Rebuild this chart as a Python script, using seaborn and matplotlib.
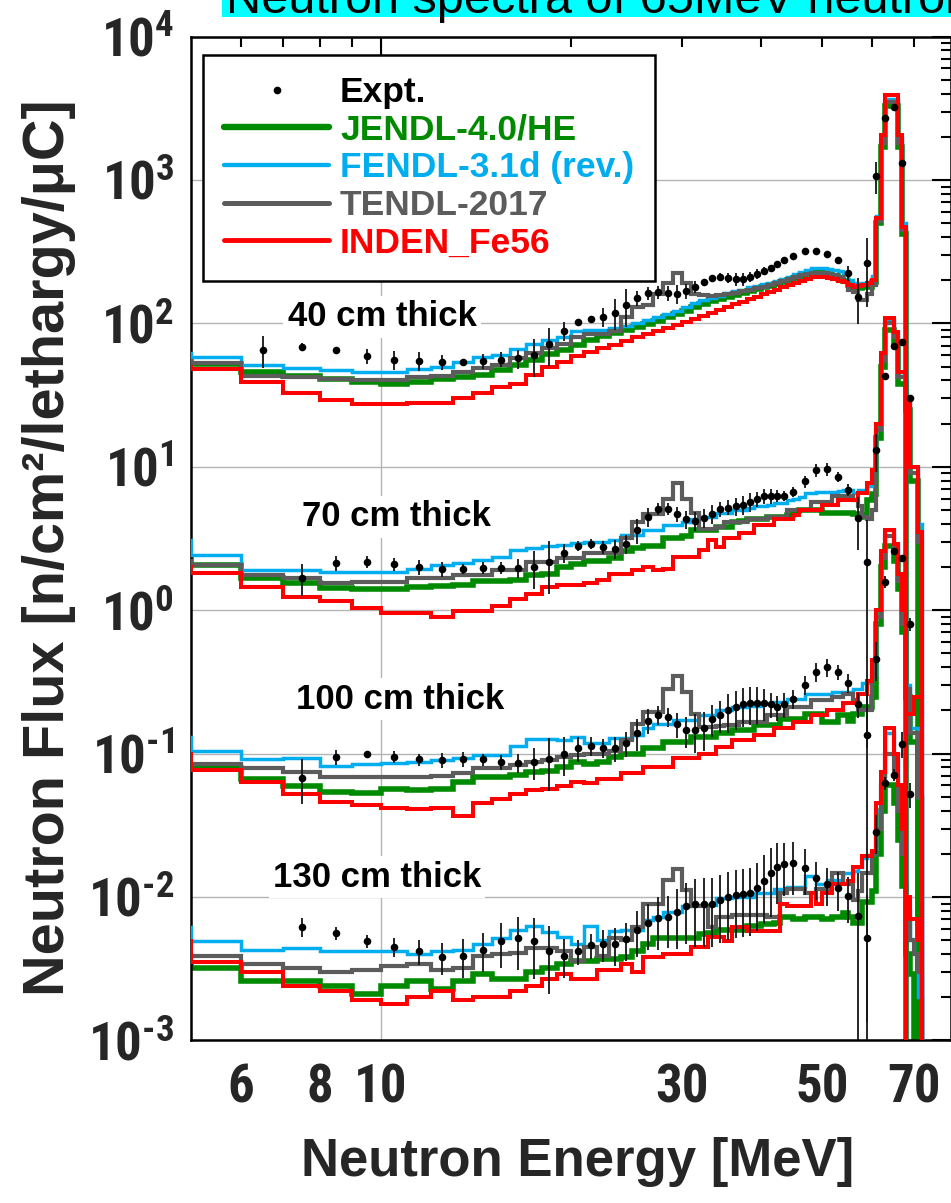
import os
import numpy as np
import pandas as pd
import matplotlib
matplotlib.use("Agg")
import matplotlib.pyplot as plt
from matplotlib.lines import Line2D
from matplotlib.patches import Rectangle
from matplotlib.ticker import NullFormatter
from matplotlib import font_manager
from matplotlib.font_manager import FontProperties
import seaborn as sns

# ------------------------------------------------------------------ data
EDGES = list(range(4, 77))  # histogram bin edges [MeV], 72 bins (4-5 ... 75-76)

# ---- 40 cm
JENDL_40 = [56, 52, 46, 43, 41, 39, 38, 39, 41, 42,
            44, 47, 51, 56, 61, 65, 71, 76, 82, 86,
            90, 94, 99, 104, 110, 116, 123, 130, 137, 143,
            148, 153, 158, 163, 168, 173, 178, 183, 188, 194,
            200, 207, 213, 220, 226, 228, 226, 220, 213, 205,
            198, 185, 180, 176, 178, 180, 195, 500, 1700, 3300,
            3300, 3300, 1700, 420, 0, 0, 0, 0, 0, 0,
            0, 0]
FENDL_40 = [62, 58, 51, 49, 47, 46, 46, 48, 50, 54,
            58, 60, 66, 72, 76, 80, 88, 90, 90, 93,
            96, 100, 105, 110, 116, 122, 130, 138, 145, 150,
            156, 162, 167, 172, 178, 183, 188, 192, 198, 205,
            212, 220, 228, 236, 243, 245, 243, 240, 236, 232,
            225, 200, 190, 188, 190, 195, 215, 560, 2000, 3700,
            3700, 3700, 2000, 500, 0, 0, 0, 0, 0, 0,
            0, 0]
TENDL_40 = [55, 53, 43, 42, 41, 40, 40, 42, 43, 46,
            49, 51, 57, 62, 67, 72, 80, 84, 85, 88,
            110, 130, 135, 160, 190, 225, 190, 160, 158, 156,
            158, 160, 163, 168, 172, 176, 180, 186, 192, 198,
            205, 212, 218, 222, 225, 226, 225, 222, 218, 210,
            195, 172, 165, 145, 145, 160, 185, 520, 1800, 3500,
            3500, 3500, 1800, 450, 0, 0, 0, 0, 0, 0,
            0, 0]
INDEN_40 = [50, 48, 39, 32.5, 29, 27.5, 27.5, 27.7, 27.7, 30,
            32.5, 36, 38, 44, 50, 54, 59, 63, 67, 71,
            75, 80, 84, 88, 93, 98, 103, 108, 113, 118,
            124, 130, 136, 142, 148, 154, 160, 166, 172, 178,
            185, 192, 198, 204, 210, 212, 210, 207, 203, 198,
            195, 185, 180, 182, 185, 190, 200, 540, 2060, 3900,
            3900, 3900, 2060, 470, 0, 0, 0, 0, 0, 0,
            0, 0]

# ---- 70 cm
JENDL_70 = [2.3, 2.07, 1.68, 1.55, 1.43, 1.4, 1.4, 1.45, 1.48, 1.5,
            1.6, 1.6, 1.62, 1.76, 1.8, 2.0, 2.1, 2.2, 2.2, 2.3,
            2.6, 2.7, 2.8, 2.8, 3.2, 3.2, 3.3, 3.6, 3.6, 3.6,
            3.8, 3.8, 4.1, 4.2, 4.3, 4.3, 4.3, 4.5, 4.5, 4.5,
            4.6, 4.9, 5.0, 5.0, 5.0, 5.0, 4.8, 4.8, 4.8, 4.8,
            4.8, 4.8, 4.7, 4.5, 4.6, 5.9, 6.5, 16, 50, 90,
            90, 70, 38, 38, 25, 8, 8, 0, 0, 0,
            0, 0]
FENDL_70 = [3.1, 2.43, 1.9, 1.9, 1.86, 1.86, 1.86, 1.95, 2.05, 2.14,
            2.25, 2.35, 2.63, 2.7, 2.8, 2.85, 2.95, 3.0, 3.0, 3.1,
            3.35, 3.35, 3.6, 3.6, 3.9, 3.9, 4.1, 4.3, 4.5, 4.5,
            4.8, 4.8, 5.0, 5.0, 5.2, 5.3, 5.3, 5.4, 5.6, 5.6,
            5.9, 6.0, 6.2, 6.6, 6.6, 6.7, 6.7, 6.7, 6.7, 6.8,
            6.9, 6.9, 6.6, 6.9, 6.9, 7.3, 9.0, 20, 62, 105,
            105, 87, 46, 46, 30, 10, 10, 4, 0, 0,
            0, 0]
TENDL_70 = [2.2, 2.07, 1.76, 1.68, 1.55, 1.58, 1.58, 1.68, 1.68, 1.76,
            1.76, 1.9, 1.9, 2.16, 2.16, 2.3, 2.3, 2.5, 2.5, 2.5,
            3.2, 4.1, 4.7, 4.7, 6.0, 7.7, 6.0, 4.8, 3.7, 3.7,
            3.8, 4.1, 4.1, 4.1, 4.3, 4.3, 4.3, 4.5, 4.5, 4.5,
            5.0, 5.0, 5.0, 5.0, 5.7, 5.7, 5.7, 5.7, 6.3, 6.3,
            6.3, 6.3, 5.9, 5.3, 4.5, 4.3, 5.0, 18, 55, 100,
            100, 80, 42, 42, 28, 9, 9, 3, 0, 0,
            0, 0]
INDEN_70 = [2.0, 1.83, 1.46, 1.24, 1.15, 1.03, 0.95, 0.95, 0.9, 0.98,
            0.98, 1.07, 1.2, 1.3, 1.46, 1.5, 1.5, 1.55, 1.62, 1.8,
            1.8, 1.9, 2.0, 1.9, 1.95, 2.36, 2.36, 2.36, 2.63, 3.1,
            2.77, 3.17, 3.17, 3.45, 3.45, 3.9, 3.9, 3.9, 4.3, 4.3,
            4.3, 4.6, 5.0, 5.0, 5.0, 5.0, 5.4, 5.4, 5.4, 5.9,
            5.9, 5.9, 5.9, 6.6, 6.6, 7.7, 9.5, 20, 62, 109,
            109, 87, 46, 46, 30, 10, 10, 3.5, 0, 0,
            0, 0]

# ---- 100 cm
JENDL_100 = [0.081, 0.079, 0.067, 0.059, 0.054, 0.053, 0.057, 0.056, 0.057, 0.063,
             0.069, 0.069, 0.071, 0.075, 0.076, 0.081, 0.087, 0.085, 0.088, 0.095,
             0.1, 0.1, 0.109, 0.109, 0.121, 0.121, 0.121, 0.131, 0.131, 0.131,
             0.139, 0.139, 0.145, 0.145, 0.145, 0.158, 0.158, 0.158, 0.158, 0.175,
             0.175, 0.175, 0.175, 0.19, 0.19, 0.19, 0.165, 0.165, 0.165, 0.186,
             0.186, 0.17, 0.19, 0.19, 0.21, 0.21, 0.25, 0.8, 2.0, 2.8,
             2.8, 2.2, 1.4, 0.7, 0.25, 0.12, 0.12, 0, 0, 0,
             0, 0]
FENDL_100 = [0.131, 0.105, 0.091, 0.093, 0.082, 0.085, 0.086, 0.088, 0.09, 0.093,
             0.098, 0.098, 0.113, 0.126, 0.126, 0.124, 0.13, 0.118, 0.118, 0.128,
             0.128, 0.135, 0.15, 0.16, 0.16, 0.171, 0.171, 0.171, 0.186, 0.186,
             0.2, 0.2, 0.21, 0.21, 0.215, 0.215, 0.22, 0.22, 0.23, 0.23,
             0.24, 0.24, 0.24, 0.26, 0.26, 0.26, 0.26, 0.26, 0.27, 0.27,
             0.27, 0.27, 0.28, 0.28, 0.31, 0.31, 0.36, 1.0, 2.6, 3.6,
             3.6, 2.9, 1.8, 0.9, 0.3, 0.15, 0.15, 0.05, 0, 0,
             0, 0]
TENDL_100 = [0.085, 0.085, 0.079, 0.075, 0.069, 0.069, 0.069, 0.069, 0.07, 0.073,
             0.079, 0.079, 0.083, 0.087, 0.09, 0.094, 0.098, 0.1, 0.1, 0.105,
             0.124, 0.16, 0.196, 0.196, 0.28, 0.35, 0.27, 0.19, 0.154, 0.154,
             0.156, 0.158, 0.158, 0.167, 0.167, 0.167, 0.167, 0.186, 0.186, 0.186,
             0.21, 0.21, 0.21, 0.21, 0.237, 0.237, 0.237, 0.237, 0.25, 0.25,
             0.26, 0.26, 0.237, 0.2, 0.2, 0.2, 0.35, 0.9, 2.3, 3.3,
             3.3, 2.6, 1.6, 0.8, 0.28, 0.14, 0.14, 0.05, 0, 0,
             0, 0]
INDEN_100 = [0.1, 0.077, 0.063, 0.052, 0.046, 0.044, 0.042, 0.041, 0.042, 0.037,
             0.045, 0.048, 0.052, 0.056, 0.057, 0.059, 0.063, 0.062, 0.066, 0.066,
             0.073, 0.073, 0.081, 0.081, 0.081, 0.093, 0.093, 0.093, 0.1, 0.1,
             0.112, 0.112, 0.124, 0.124, 0.124, 0.135, 0.135, 0.135, 0.15, 0.15,
             0.15, 0.167, 0.167, 0.167, 0.186, 0.186, 0.186, 0.2, 0.2, 0.2,
             0.224, 0.224, 0.224, 0.26, 0.26, 0.32, 0.45, 1.0, 2.6, 3.6,
             3.6, 2.9, 1.8, 1.0, 0.19, 0.19, 0.25, 0.25, 0, 0,
             0, 0]

# ---- 130 cm
JENDL_130 = [0.0033, 0.0032, 0.0026, 0.0026, 0.0024, 0.0021, 0.0024, 0.0026, 0.0023, 0.0026,
             0.0029, 0.0027, 0.0027, 0.003, 0.0032, 0.0034, 0.0036, 0.0036, 0.0037, 0.0037,
             0.0038, 0.0042, 0.0047, 0.0052, 0.0052, 0.0052, 0.0052, 0.0052, 0.0055, 0.0056,
             0.0059, 0.0059, 0.0059, 0.0059, 0.0063, 0.0063, 0.0065, 0.0065, 0.0066, 0.0073,
             0.0073, 0.007, 0.007, 0.0073, 0.0073, 0.0073, 0.007, 0.007, 0.0073, 0.0073,
             0.0077, 0.0072, 0.0066, 0.0066, 0.0093, 0.0093, 0.011, 0.02, 0.04, 0.06,
             0.06, 0.045, 0.025, 0.012, 0.004, 0.0029, 0, 0, 0, 0,
             0, 0]
FENDL_130 = [0.0062, 0.0049, 0.0043, 0.0044, 0.0042, 0.0042, 0.0042, 0.004, 0.0042, 0.0043,
             0.0047, 0.0052, 0.0059, 0.0063, 0.0057, 0.0053, 0.0047, 0.0063, 0.005, 0.0058,
             0.0059, 0.0059, 0.0069, 0.0073, 0.0079, 0.0079, 0.0086, 0.0088, 0.0088, 0.0088,
             0.0098, 0.0098, 0.01, 0.01, 0.01, 0.0106, 0.0106, 0.0106, 0.0114, 0.0114,
             0.0118, 0.0118, 0.0118, 0.0139, 0.0139, 0.0124, 0.0124, 0.0131, 0.0131, 0.0131,
             0.0146, 0.0146, 0.0153, 0.0162, 0.0188, 0.0196, 0.02, 0.04, 0.07, 0.14,
             0.14, 0.09, 0.05, 0.025, 0.008, 0.005, 0.004, 0.002, 0, 0,
             0, 0]
TENDL_130 = [0.004, 0.0039, 0.0034, 0.0032, 0.003, 0.0031, 0.0033, 0.0034, 0.0031, 0.0032,
             0.0039, 0.004, 0.0041, 0.0044, 0.0044, 0.0042, 0.0036, 0.0045, 0.0039, 0.0052,
             0.005, 0.0062, 0.009, 0.009, 0.0131, 0.0158, 0.0112, 0.0086, 0.0086, 0.0062,
             0.0073, 0.0073, 0.0075, 0.0075, 0.0075, 0.0075, 0.0075, 0.0073, 0.0073, 0.0106,
             0.0114, 0.0114, 0.0114, 0.0106, 0.0106, 0.0114, 0.0114, 0.0114, 0.0146, 0.0146,
             0.0123, 0.0123, 0.0095, 0.011, 0.0146, 0.0146, 0.02, 0.03, 0.06, 0.1,
             0.1, 0.07, 0.04, 0.02, 0.007, 0.005, 0.004, 0.003, 0, 0,
             0, 0]
INDEN_130 = [0.0049, 0.0035, 0.003, 0.0024, 0.0022, 0.0019, 0.0018, 0.002, 0.0022, 0.0019,
             0.002, 0.002, 0.0022, 0.0024, 0.0027, 0.0029, 0.0027, 0.0027, 0.0031, 0.0031,
             0.0034, 0.003, 0.0038, 0.0038, 0.004, 0.004, 0.004, 0.0045, 0.0045, 0.0053,
             0.0053, 0.0049, 0.0062, 0.0062, 0.0058, 0.0058, 0.0058, 0.0058, 0.0058, 0.009,
             0.0086, 0.0086, 0.0086, 0.0086, 0.0106, 0.009, 0.0106, 0.0106, 0.0123, 0.0123,
             0.0123, 0.013, 0.0162, 0.0162, 0.0193, 0.0193, 0.021, 0.045, 0.075, 0.15,
             0.15, 0.1, 0.06, 0.03, 0.01, 0.007, 0.007, 0.005, 0, 0,
             0, 0]

# ---- experiment (energies of the points)
EXPT_E = [6.5, 7.5, 8.5, 9.5, 10.5, 11.5, 12.5, 13.5, 14.5, 15.5,
          16.5, 17.5, 18.5, 19.5, 20.5, 21.5,
          22.5, 23.5, 24.5, 25.5, 26.5, 27.5, 28.5, 29.5, 30.5, 31.5,
          32.5, 33.5, 34.5, 35.5, 36.5, 37.5, 38.5, 39.5, 40.5, 41.5,
          42.5, 43.5,
          45, 47, 49, 51, 53, 55, 57, 59, 61, 63, 65, 67, 69]
nan = float("nan")
EXPT_40 = [65, 69, 65, 59, 56, 55, 53.5, 53.5, 55, 56,
           57, 60, 72, 89, 102, 107,
           111, 119, 134, 151, 162, 165, 162, 160, 168, 180,
           194, 206, 212, 208, 204, 204, 212, 221, 233, 242,
           258, 277,
           295, 321, 321, 305, 277, 226, 153, 262, 1066, 2690, 3210, 1320, nan]
EXPT_70 = [nan, 1.67, 2.14, 2.18, 2.09, 1.99, 1.93, 1.93, 1.98, 1.98,
           1.98, 2.0, 2.16, 2.5, 2.8, 2.9,
           2.75, 2.67, 2.9, 3.6, 4.5, 5.1, 5.1, 4.7, 4.3, 4.2,
           4.4, 4.7, 5.1, 5.2, 5.3, 5.4, 5.7, 6.0, 6.3, 6.3,
           6.3, 6.3,
           6.7, 7.9, 9.5, 9.6, 8.5, 6.9, 4.4, 2.18, 13.1, 43, 70, 74, 30]
EXPT_100 = [nan, 0.068, 0.094, 0.1, 0.095, 0.091, 0.09, 0.091, 0.091, 0.087,
            0.086, 0.087, 0.092, 0.1, 0.109, 0.113,
            0.11, 0.109, 0.118, 0.14, 0.17, 0.186, 0.18, 0.16, 0.145, 0.145,
            0.15, 0.174, 0.186, 0.2, 0.21, 0.22, 0.225, 0.225, 0.224, 0.22,
            0.21, 0.22,
            0.24, 0.30, 0.37, 0.40, 0.37, 0.31, 0.22, 0.135, 0.46, 1.58, 2.6, 2.3, 0.8]
EXPT_130 = [nan, 0.0062, 0.0056, 0.0049, 0.0045, 0.0042, 0.0038, 0.0039, 0.0043, 0.0049,
            0.0052, 0.0049, 0.0042, 0.0039, 0.0042, 0.0046,
            0.0047, 0.0047, 0.0051, 0.0059, 0.0066, 0.0071, 0.0073, 0.0079, 0.0086, 0.0089,
            0.009, 0.009, 0.0095, 0.010, 0.0103, 0.0105, 0.0107, 0.0115, 0.013, 0.0146,
            0.0163, 0.017,
            0.0173, 0.016, 0.0136, 0.0123, 0.0115, 0.0102, 0.0074, 0.0052, 0.0285, 0.062, 0.071, 0.117, 0.052]
# relative uncertainties of the points
ERR_40 = [0.25, 0.05, 0.05, 0.12, 0.15, 0.15, 0.12, 0.06, 0.12, 0.12,
          0.15, 0.3, 0.3, 0.15, 0.06, 0.06,
          0.15, 0.25, 0.3, 0.12, 0.1, 0.1, 0.12, 0.15, 0.12, 0.1,
          0.06, 0.06, 0.06, 0.08, 0.1, 0.1, 0.08, 0.08, 0.06, 0.06,
          0.05, 0.05,
          0.05, 0.05, 0.05, 0.05, 0.05, 0.12, 0.35, 0.5, 0.25, 0.05, 0.05, 0.05, 0]
ERR_70 = [0, 0.25, 0.12, 0.1, 0.1, 0.12, 0.12, 0.08, 0.1, 0.1,
          0.15, 0.3, 0.4, 0.15, 0.08, 0.08,
          0.1, 0.15, 0.15, 0.2, 0.15, 0.1, 0.1, 0.12, 0.15, 0.15,
          0.15, 0.15, 0.12, 0.12, 0.15, 0.15, 0.15, 0.12, 0.12, 0.12,
          0.1, 0.08,
          0.08, 0.1, 0.1, 0.1, 0.08, 0.1, 0.4, 0.95, 0.3, 0.05, 0.05, 0.05, 0.05]
ERR_100 = [0, 0.35, 0.12, 0.05, 0.1, 0.1, 0.12, 0.12, 0.1, 0.12,
           0.15, 0.25, 0.4, 0.3, 0.2, 0.15,
           0.15, 0.2, 0.2, 0.25, 0.2, 0.15, 0.15, 0.2, 0.25, 0.3,
           0.3, 0.25, 0.25, 0.3, 0.3, 0.3, 0.3, 0.3, 0.25, 0.2,
           0.2, 0.2,
           0.15, 0.15, 0.15, 0.15, 0.12, 0.15, 0.2, 0.99, 0.3, 0.1, 0.05, 0.05, 0.1]
ERR_130 = [0, 0.15, 0.1, 0.1, 0.15, 0.2, 0.25, 0.3, 0.3, 0.35,
           0.4, 0.45, 0.5, 0.3, 0.2, 0.2,
           0.25, 0.3, 0.3, 0.35, 0.35, 0.4, 0.4, 0.45, 0.45, 0.5,
           0.5, 0.5, 0.5, 0.5, 0.5, 0.5, 0.5, 0.5, 0.5, 0.5,
           0.45, 0.4,
           0.4, 0.35, 0.3, 0.3, 0.3, 0.35, 0.99, 0.99, 0.3, 0.1, 0.1, 0.2, 0.2]

LIBRARIES = ["JENDL-4.0/HE", "FENDL-3.1d (rev.)", "TENDL-2017", "INDEN_Fe56"]
THICKNESS = ["40 cm thick", "70 cm thick", "100 cm thick", "130 cm thick"]
XTICK_MAJOR = [10]
XTICK_MINOR = [6, 7, 8, 9, 20, 30, 40, 50, 60, 70]
XTICK_MINOR_LABELS = ["6", "", "8", "", "", "30", "", "50", "", "70"]
YTICKS = [1e-3, 1e-2, 1e-1, 1e0, 1e1, 1e2, 1e3, 1e4]
YTICK_EXP = ["\u20103", "\u20102", "\u20101", "0", "1", "2", "3", "4"]

CURVES = {
    "40 cm thick": [JENDL_40, FENDL_40, TENDL_40, INDEN_40],
    "70 cm thick": [JENDL_70, FENDL_70, TENDL_70, INDEN_70],
    "100 cm thick": [JENDL_100, FENDL_100, TENDL_100, INDEN_100],
    "130 cm thick": [JENDL_130, FENDL_130, TENDL_130, INDEN_130],
}
EXPT = {
    "40 cm thick": (EXPT_40, ERR_40),
    "70 cm thick": (EXPT_70, ERR_70),
    "100 cm thick": (EXPT_100, ERR_100),
    "130 cm thick": (EXPT_130, ERR_130),
}

# ------------------------------------------------------------------ fonts / style
sns.set_theme(style="white")
ttf = font_manager.fontManager.ttflist
names = {f.name for f in ttf}
SANS = "Liberation Sans" if "Liberation Sans" in names else "DejaVu Sans"


def _wnum(w):
    if isinstance(w, (int, float)):
        return w
    return {"bold": 700, "normal": 400, "regular": 400}.get(str(w).lower(), 400)


COND = None
cands = []
for f in ttf:
    base = os.path.basename(f.fname).lower()
    key = (f.name + " " + base).lower()
    st = str(f.stretch).lower()
    if ("narrow" in key or "condensed" in key or "cond" in base
            or st in ("condensed", "semi-condensed", "extra-condensed", "ultra-condensed")):
        if "italic" in key or "oblique" in key or str(f.style) != "normal":
            continue
        pri = 0 if ("liberation" in key or "arial" in key) else (1 if "roboto" in key else 2)
        cands.append((pri, abs(_wnum(f.weight) - 700), f))
if cands:
    cands.sort(key=lambda t: (t[0], t[1]))
    COND = cands[0][2]

TICK_SIZE = 38
math_font = SANS + ":bold"
if COND is not None:
    TICK_FP = FontProperties(fname=COND.fname, size=TICK_SIZE)
    for cand_pat in (COND.name + ":bold:stretch=" + str(COND.stretch), COND.name + ":bold"):
        try:
            fp_try = FontProperties(cand_pat)
            found = font_manager.findfont(fp_try, fallback_to_default=False)
            if os.path.basename(found).lower() == os.path.basename(COND.fname).lower():
                math_font = cand_pat
                break
        except Exception:
            continue
    TICK_SIZE_Y = 31 if math_font == SANS + ":bold" else 38
else:
    TICK_SIZE = 31
    TICK_FP = FontProperties(family=SANS, weight="bold", size=TICK_SIZE)
    TICK_SIZE_Y = 31

plt.rcParams["font.family"] = [SANS, "DejaVu Sans"]
plt.rcParams["mathtext.fontset"] = "custom"
for k in ("rm", "it", "bf", "sf"):
    plt.rcParams["mathtext." + k] = math_font
plt.rcParams["mathtext.default"] = "rm"

STYLE = {  # color, linewidth, zorder
    "JENDL-4.0/HE": ("#008a00", 4.0, 2),
    "FENDL-3.1d (rev.)": ("#00aeef", 2.5, 3),
    "TENDL-2017": ("#5c5c5c", 3.0, 4),
    "INDEN_Fe56": ("#ff0000", 2.9, 5),
}

W, H = 951, 1203
fig = plt.figure(figsize=(W / 100, H / 100), dpi=100, facecolor="white")
AX_L, AX_R, AX_T, AX_B = 191, 950.5, 36.6, 1040.4
ax = fig.add_axes([AX_L / W, 1 - AX_B / H, (AX_R - AX_L) / W, (AX_B - AX_T) / H])
ax.set_facecolor("white")

# ------------------------------------------------------------------ histograms
rows = []
for thick, series in CURVES.items():
    for lib, vals in zip(LIBRARIES, series):
        y = list(vals) + [vals[-1]]
        for e, v in zip(EDGES, y):
            rows.append((thick, lib, e, max(v, 1e-7)))
df = pd.DataFrame(rows, columns=["thickness", "library", "E", "flux"])

for thick in THICKNESS:
    for lib in LIBRARIES:
        c, lw, z = STYLE[lib]
        sub = df[(df.thickness == thick) & (df.library == lib)]
        sns.lineplot(data=sub, x="E", y="flux", drawstyle="steps-post", color=c,
                     linewidth=lw, zorder=z, estimator=None, sort=False,
                     errorbar=None, legend=False, ax=ax,
                     solid_joinstyle="miter", solid_capstyle="butt")

# ------------------------------------------------------------------ experiment
erows = []
for thick, (vals, errs) in EXPT.items():
    for e, v, r in zip(EXPT_E, vals, errs):
        erows.append((thick, e, v, r))
de = pd.DataFrame(erows, columns=["thickness", "E", "flux", "rel"]).dropna()
lo = np.maximum(de.flux * (1 - de.rel), 1e-7)
hi = de.flux * (1 + de.rel)
ax.vlines(de.E, lo, hi, colors="#151515", linewidth=1.3, zorder=6)
sns.scatterplot(data=de, x="E", y="flux", color="black", s=30, linewidth=0,
                zorder=7, legend=False, ax=ax)

# ------------------------------------------------------------------ axes
ax.set_xscale("log")
ax.set_yscale("log")
ax.set_xlim(5, 80)
ax.set_ylim(1e-3, 1e4)

ax.set_xticks(XTICK_MAJOR, labels=[str(v) for v in XTICK_MAJOR])
ax.set_xticks(XTICK_MINOR, labels=XTICK_MINOR_LABELS, minor=True)
ax.set_yticks(YTICKS, labels=["$10^{%s}$" % e for e in YTICK_EXP])
ax.set_yticks([m * 10.0 ** d for d in range(-3, 4) for m in range(2, 10)], minor=True)
ax.yaxis.set_minor_formatter(NullFormatter())
for t in ax.get_xticklabels() + ax.get_xticklabels(minor=True):
    t.set_fontproperties(TICK_FP)
for t in ax.get_yticklabels():
    t.set_fontsize(TICK_SIZE_Y)

ax.tick_params(which="both", direction="in", top=True, right=True, width=1.5,
               color="black")
ax.tick_params(axis="y", which="major", length=14, pad=12)
ax.tick_params(axis="y", which="minor", length=7)
ax.tick_params(axis="x", which="major", length=13.5, pad=16)
ax.tick_params(axis="x", which="minor", length=7, pad=16)
for s in ax.spines.values():
    s.set_visible(True)
    s.set_color("black")
    s.set_linewidth(1.8)

ax.grid(True, which="major", color="#b4b4b4", linewidth=1.0)
ax.grid(False, which="minor")
ax.set_axisbelow(True)

ax.set_xlabel("Neutron Energy [MeV]", fontsize=38, fontweight="bold", va="center")
ax.xaxis.set_label_coords((577.5 - AX_L) / (AX_R - AX_L), (AX_B - 1162) / (AX_B - AX_T))
ax.set_ylabel("Neutron Flux [n/cm²/lethargy/μC]", fontsize=41.5, fontweight="bold",
              va="center")
ax.yaxis.set_label_coords((49 - AX_L) / (AX_R - AX_L), (AX_B - 547.5) / (AX_B - AX_T))

# thickness annotations
LABEL_POS = {"40 cm thick": (382, 317), "70 cm thick": (396, 517),
             "100 cm thick": (400, 699), "130 cm thick": (377, 877)}
for thick in THICKNESS:
    px, py = LABEL_POS[thick]
    ax.text((px - AX_L) / (AX_R - AX_L), (AX_B - py) / (AX_B - AX_T), thick,
            transform=ax.transAxes, ha="center", va="center", fontsize=25,
            fontweight="bold", color="black", zorder=8,
            bbox=dict(facecolor="white", edgecolor="none", pad=3))

# legend
handles = [Line2D([], [], ls="none", marker="o", color="black", markersize=4.5)]
for lib in LIBRARIES:
    c, lw, z = STYLE[lib]
    handles.append(Line2D([], [], color=c, lw=lw + 0.6))
leg = ax.legend(handles, ["Expt."] + LIBRARIES, loc="upper left",
                bbox_to_anchor=(203 / W, 1 - 55 / H), bbox_transform=fig.transFigure,
                borderaxespad=0, frameon=True, fancybox=False, framealpha=1,
                edgecolor="black", borderpad=0.6, handlelength=2.97,
                handletextpad=0.30, labelspacing=0.13,
                prop=dict(family=SANS, weight="bold", size=25.5))
leg.get_frame().set_linewidth(1.8)
for t, c in zip(leg.get_texts(), ["black"] + [STYLE[l][0] for l in LIBRARIES]):
    t.set_color(c)
leg.set_zorder(20)

# title banner (cut off at the top edge)
fig.patches.append(Rectangle((222 / W, 1 - 17 / H), (W - 222) / W, 17 / H + 0.05,
                             transform=fig.transFigure, facecolor="#00ffff",
                             edgecolor="none", zorder=0))
fig.text(226 / W, 1 - 13 / H, "Neutron spectra of 65MeV neutrons", fontsize=35,
         ha="left", va="baseline", color="black", family=SANS)

fig.savefig("out.png", dpi=100, facecolor="white")
